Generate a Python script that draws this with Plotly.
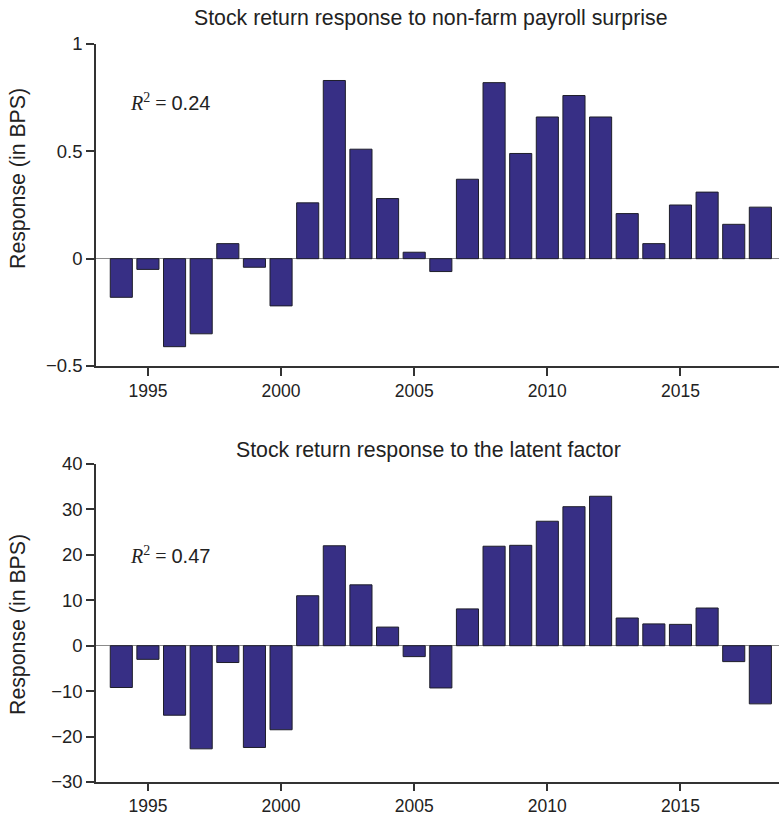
import plotly.graph_objects as go
from plotly.subplots import make_subplots

# Annual stock-return responses, 1994-2018
years = list(range(1994, 2019))
payroll_response = [-0.18, -0.05, -0.41, -0.35, 0.07, -0.04, -0.22, 0.26, 0.83, 0.51,
                    0.28, 0.03, -0.06, 0.37, 0.82, 0.49, 0.66, 0.76, 0.66, 0.21,
                    0.07, 0.25, 0.31, 0.16, 0.24]
latent_response = [-9.2, -3.0, -15.3, -22.7, -3.7, -22.4, -18.5, 11.0, 22.0, 13.4,
                   4.1, -2.4, -9.3, 8.1, 21.9, 22.1, 27.4, 30.6, 32.9, 6.1,
                   4.8, 4.7, 8.3, -3.5, -12.8]

titles = ["Stock return response to non-farm payroll surprise",
          "Stock return response to the latent factor"]
r2_labels = ["0.24", "0.47"]
y_title = "Response (in BPS)"
x_ticks = [1995, 2000, 2005, 2010, 2015]
top_yticks = [-0.5, 0, 0.5, 1]
top_yticktext = ["\u22120.5", "0", "0.5", "1"]
bot_yticks = [-30, -20, -10, 0, 10, 20, 30, 40]
bot_yticktext = ["\u221230", "\u221220", "\u221210", "0", "10", "20", "30", "40"]

W, H = 779, 817
L = 96
BAR = "#372F85"
TXT = "#222222"
FONT = "Liberation Sans, Arial, sans-serif"

fig = make_subplots(rows=2, cols=1)

for row, vals in ((1, payroll_response), (2, latent_response)):
    fig.add_trace(go.Bar(x=years, y=vals, width=0.83,
                         marker=dict(color=BAR, line=dict(color="#1e1e2a", width=1)),
                         showlegend=False), row=row, col=1)

def py(pix):
    return 1 - pix / H

axis_common = dict(showline=True, linecolor="#333333", linewidth=1.5,
                   ticks="outside", tickcolor="#333333", tickwidth=1.5,
                   showgrid=False, automargin=False)
xfont = dict(family=FONT, size=17.5, color=TXT)
yfont = dict(family=FONT, size=18.5, color=TXT)

fig.update_layout(
    width=W, height=H,
    margin=dict(l=L, r=0, t=0, b=0, pad=0),
    paper_bgcolor="white", plot_bgcolor="white",
    font=dict(family=FONT, color=TXT),
    xaxis=dict(domain=[0, 1], range=[1993.05, 2018.7], tickvals=x_ticks, anchor="y",
               zeroline=False, tickfont=xfont, ticklen=8, **axis_common),
    xaxis2=dict(domain=[0, 1], range=[1993.05, 2018.7], tickvals=x_ticks, anchor="y2",
                zeroline=False, tickfont=xfont, ticklen=7, **axis_common),
    yaxis=dict(domain=[py(366), py(44)], range=[-0.5, 1], tickvals=top_yticks,
               ticktext=top_yticktext, zeroline=True, zerolinecolor="#8a8a8a",
               zerolinewidth=1, anchor="x", tickfont=yfont, ticklen=8, **axis_common),
    yaxis2=dict(domain=[py(782), py(464)], range=[-30, 40], tickvals=bot_yticks,
                ticktext=bot_yticktext, zeroline=True, zerolinecolor="#8a8a8a",
                zerolinewidth=1, anchor="x2", tickfont=yfont, ticklen=8, **axis_common),
)

plot_w = W - L
annotations = []
# panel titles
for title, ypix, xpix in ((titles[0], 18, 430), (titles[1], 450, 428)):
    annotations.append(dict(text=title, xref="paper", yref="paper",
                            x=(xpix - L) / plot_w, y=py(ypix), xanchor="center",
                            yanchor="middle", showarrow=False,
                            font=dict(family=FONT, size=21.3, color=TXT)))
# y-axis titles
for ypix in (179, 625):
    annotations.append(dict(text=y_title, xref="paper", yref="paper",
                            x=(18 - L) / plot_w, y=py(ypix), xanchor="center",
                            yanchor="middle", textangle=-90, showarrow=False,
                            font=dict(family=FONT, size=21.3, color=TXT)))
# R-squared labels
serif = "Liberation Serif, Times New Roman, serif"
for (xr, yr, yv), lab in ((("x", "y", 0.73), r2_labels[0]), (("x2", "y2", 20.0), r2_labels[1])):
    annotations.append(dict(
        text=f"<span style='font-family:{serif}'><i>R</i><sup>2</sup> = </span>{lab}",
        xref=xr, yref=yr, x=1994.25, y=yv, xanchor="left", yanchor="middle",
        showarrow=False, font=dict(family=FONT, size=20, color=TXT)))

fig.update_layout(annotations=annotations)
fig.write_html("out.html")
